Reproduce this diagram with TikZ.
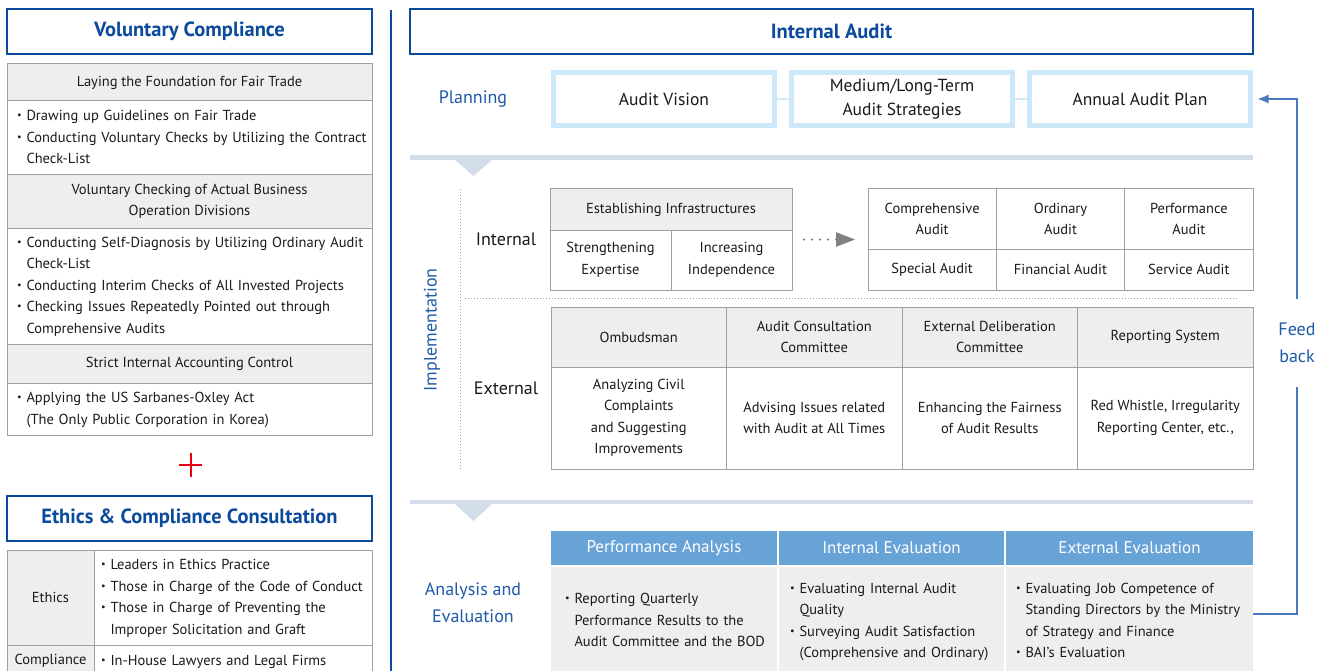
\documentclass[tikz,border=0pt]{standalone}
\usepackage{fontspec}
\setmainfont{PT Sans}
\usetikzlibrary{arrows.meta,calc}
\definecolor{dblue}{HTML}{0B4A9C}
\definecolor{lblue}{HTML}{1E5AA8}
\definecolor{pboxc}{HTML}{CDE8F8}
\definecolor{hgray}{HTML}{EEEEEE}
\definecolor{bgray}{HTML}{A0A0A0}
\definecolor{sepc}{HTML}{D3DDE9}
\definecolor{hblue}{HTML}{68A3D8}
\definecolor{fbc}{HTML}{4A78C0}
\definecolor{txt}{HTML}{1A1A1A}
\definecolor{plusred}{HTML}{E60012}
\newcommand\bodyf{\fontsize{14.5}{21.5}\selectfont}
\newcommand\bu{\makebox[9.5pt][l]{\raisebox{.25ex}{\scalebox{.7}{\textbullet}}}}
\tikzset{
  every node/.style={inner sep=0pt, outer sep=0pt, text=txt},
  titlebox/.style={draw=dblue, line width=2.5pt, text=dblue, anchor=north west,
     font=\fontsize{20.5}{24}\selectfont\bfseries},
  hcell/.style={draw=bgray, line width=1pt, fill=hgray, anchor=north west, align=center, font=\bodyf},
  bcell/.style={draw=bgray, line width=1pt, fill=white, anchor=north west, align=center, font=\bodyf},
  lcell/.style={bcell, align=left},
  lab/.style={text=lblue, align=center, font=\fontsize{18}{27}\selectfont},
  blab/.style={align=center, font=\fontsize{18}{24}\selectfont},
  pbox/.style={draw=pboxc, line width=5pt, fill=white, minimum width=221pt, minimum height=53pt,
     align=center, font=\fontsize{17.5}{24}\selectfont},
  bhead/.style={fill=hblue, text=white, anchor=north west, minimum height=34pt, font=\fontsize{17}{20}\selectfont},
  bbody/.style={fill=hgray, anchor=north west, minimum height=108pt, align=left, font=\bodyf},
  fbline/.style={draw=fbc, line width=1.2pt},
}
\begin{document}
\begin{tikzpicture}[x=1pt,y=-1pt]
\clip (0,0) rectangle (1327,671);
\fill[white] (0,0) rectangle (1327,671);
% ---------------- left panel
\node[titlebox, minimum width=365pt, minimum height=45pt] (vc) at (7,9) {Voluntary Compliance};
\node[hcell, minimum width=365pt, minimum height=37pt] (h1) at (7,64) {Laying the Foundation for Fair Trade};
\node[lcell, minimum width=365pt, minimum height=74pt, text width=345pt, inner xsep=10pt] (c1) at (7,101)
 {\begin{tabular}{@{}l@{}l@{}}\bu&Drawing up Guidelines on Fair Trade\\ \bu&Conducting Voluntary Checks by Utilizing the Contract\\ &Check-List\end{tabular}};
\node[hcell, minimum width=365pt, minimum height=53pt] (h2) at (7,175) {Voluntary Checking of Actual Business\\Operation Divisions};
\node[lcell, minimum width=365pt, minimum height=116pt, text width=345pt, inner xsep=10pt] (c2) at (7,228)
 {\begin{tabular}{@{}l@{}l@{}}\bu&Conducting Self-Diagnosis by Utilizing Ordinary Audit\\ &Check-List\\ \bu&Conducting Interim Checks of All Invested Projects\\ \bu&Checking Issues Repeatedly Pointed out through\\ &Comprehensive Audits\end{tabular}};
\node[hcell, minimum width=365pt, minimum height=39pt] (h3) at (7,344) {Strict Internal Accounting Control};
\node[lcell, minimum width=365pt, minimum height=52pt, text width=345pt, inner xsep=10pt] (c3) at (7,383)
 {\begin{tabular}{@{}l@{}l@{}}\bu&Applying the US Sarbanes-Oxley Act\\ &(The Only Public Corporation in Korea)\end{tabular}};
\draw[plusred, line width=2pt] (179,465) -- (202,465) (190.5,453) -- (190.5,477);
\node[titlebox, minimum width=365pt, minimum height=45pt] (ecc) at (7,496) {Ethics \& Compliance Consultation};
\node[hcell, minimum width=87pt, minimum height=95pt] (eth) at (7,550) {Ethics};
\node[lcell, minimum width=278pt, minimum height=95pt, text width=264pt, inner xsep=7pt] (ethc) at (94,550)
 {\begin{tabular}{@{}l@{}l@{}}\bu&Leaders in Ethics Practice\\ \bu&Those in Charge of the Code of Conduct\\ \bu&Those in Charge of Preventing the\\ &Improper Solicitation and Graft\end{tabular}};
\node[hcell, minimum width=87pt, minimum height=32pt] (comp) at (7,645) {Compliance};
\node[lcell, minimum width=278pt, minimum height=32pt, text width=264pt, inner xsep=7pt] (compc) at (94,645)
 {\begin{tabular}{@{}l@{}l@{}}\bu&In-House Lawyers and Legal Firms\end{tabular}};
\draw[dblue, line width=1.2pt] (391,10) -- (391,671);
% ---------------- right panel
\node[titlebox, minimum width=843pt, minimum height=45pt] (ia) at (410,9) {Internal Audit};
\node[lab] (plan) at (473,99) {Planning};
\node[pbox] (av) at (664,99) {Audit Vision};
\node[pbox] (ml) at (902,99) {Medium/Long-Term\\Audit Strategies};
\node[pbox] (aap) at (1140,99) {Annual Audit Plan};
\draw[pboxc, line width=2pt] (av) -- (ml) (ml) -- (aap);
\fill[sepc] (410,155) rectangle (1253,160);
\fill[sepc] (455,160) -- (492,160) -- (473.5,176) -- cycle;
\node[lab, rotate=90] (impl) at (432,330) {Implementation};
\draw[bgray, dotted, line width=1pt] (460,189) -- (460,469);
\draw[bgray, dotted, line width=1pt] (465,298) -- (1238,298);
\node[blab] (int) at (506,239) {Internal};
\node[blab] (ext) at (506,388) {External};
\node[hcell, minimum width=242pt, minimum height=41pt] (est) at (550,189) {Establishing Infrastructures};
\node[bcell, minimum width=121pt, minimum height=60pt] (se) at (550,230) {Strengthening\\Expertise};
\node[bcell, minimum width=121pt, minimum height=60pt] (ii) at (671,230) {Increasing\\Independence};
\node[bcell, minimum width=128.33pt, minimum height=60pt] (ca) at (868,189) {Comprehensive\\Audit};
\node[bcell, minimum width=128.33pt, minimum height=60pt] (oa) at (996.33,189) {Ordinary\\Audit};
\node[bcell, minimum width=128.33pt, minimum height=60pt] (pa) at (1124.67,189) {Performance\\Audit};
\node[bcell, minimum width=128.33pt, minimum height=41pt] (sa) at (868,249) {Special Audit};
\node[bcell, minimum width=128.33pt, minimum height=41pt] (fa) at (996.33,249) {Financial Audit};
\node[bcell, minimum width=128.33pt, minimum height=41pt] (sva) at (1124.67,249) {Service Audit};
\draw[gray, line width=2.5pt, line cap=round, dash pattern=on 0pt off 8pt, shorten <=12pt, shorten >=13pt,
  -{Triangle[length=19pt,width=14pt]}]
  ($(est.north east)!0.5!(ii.south east)$) -- ($(ca.north west)!0.5!(sa.south west)$);
% external table
\node[hcell, minimum width=175.5pt, minimum height=60pt] (omb) at (551,307) {Ombudsman};
\node[hcell, minimum width=175.5pt, minimum height=60pt] (acc) at (726.5,307) {Audit Consultation\\Committee};
\node[hcell, minimum width=175.5pt, minimum height=60pt] (edc) at (902,307) {External Deliberation\\Committee};
\node[hcell, minimum width=175.5pt, minimum height=60pt] (rs) at (1077.5,307) {Reporting System};
\node[bcell, minimum width=175.5pt, minimum height=102pt] (ombb) at (551,367) {Analyzing Civil\\Complaints\\and Suggesting\\Improvements};
\node[bcell, minimum width=175.5pt, minimum height=102pt] (accb) at (726.5,367) {Advising Issues related\\with Audit at All Times};
\node[bcell, minimum width=175.5pt, minimum height=102pt] (edcb) at (902,367) {Enhancing the Fairness\\of Audit Results};
\node[bcell, minimum width=175.5pt, minimum height=102pt] (rsb) at (1077.5,367) {Red Whistle, Irregularity\\Reporting Center, etc.,};
% analysis
\fill[sepc] (410,500) rectangle (1253,504);
\fill[sepc] (455,504) -- (492,504) -- (473.5,521) -- cycle;
\node[lab] (ae) at (473,603) {Analysis and\\Evaluation};
\node[bhead, minimum width=226pt] (pah) at (551,531) {Performance Analysis};
\node[bhead, minimum width=225pt] (ieh) at (779,531) {Internal Evaluation};
\node[bhead, minimum width=247pt] (eeh) at (1006,531) {External Evaluation};
\node[bbody, minimum width=226pt, text width=212pt, inner xsep=7pt] (pab) at (551,567)
 {\hspace*{7pt}\begin{tabular}{@{}l@{}l@{}}\bu&Reporting Quarterly\\ &Performance Results to the\\ &Audit Committee and the BOD\end{tabular}};
\node[bbody, minimum width=225pt, text width=211pt, inner xsep=7pt] (ieb) at (779,567)
 {\hspace*{4pt}\begin{tabular}{@{}l@{}l@{}}\bu&Evaluating Internal Audit\\ &Quality\\ \bu&Surveying Audit Satisfaction\\ &(Comprehensive and Ordinary)\end{tabular}};
\node[bbody, minimum width=247pt, text width=233pt, inner xsep=7pt] (eeb) at (1006,567)
 {\hspace*{3pt}\begin{tabular}{@{}l@{}l@{}}\bu&Evaluating Job Competence of\\ &Standing Directors by the Ministry\\ &of Strategy and Finance\\ \bu&BAI's Evaluation\end{tabular}};
% feedback
\node[lab, minimum height=88pt] (fb) at (1297,343) {Feed\\back};
\draw[fbline] ([yshift=7pt]eeb.east) -| (fb.south);
\draw[fbline, shorten >=7pt, -{Latex[length=11pt,width=9pt]}, fbc] (fb.north) |- (aap.east);
\end{tikzpicture}
\end{document}
